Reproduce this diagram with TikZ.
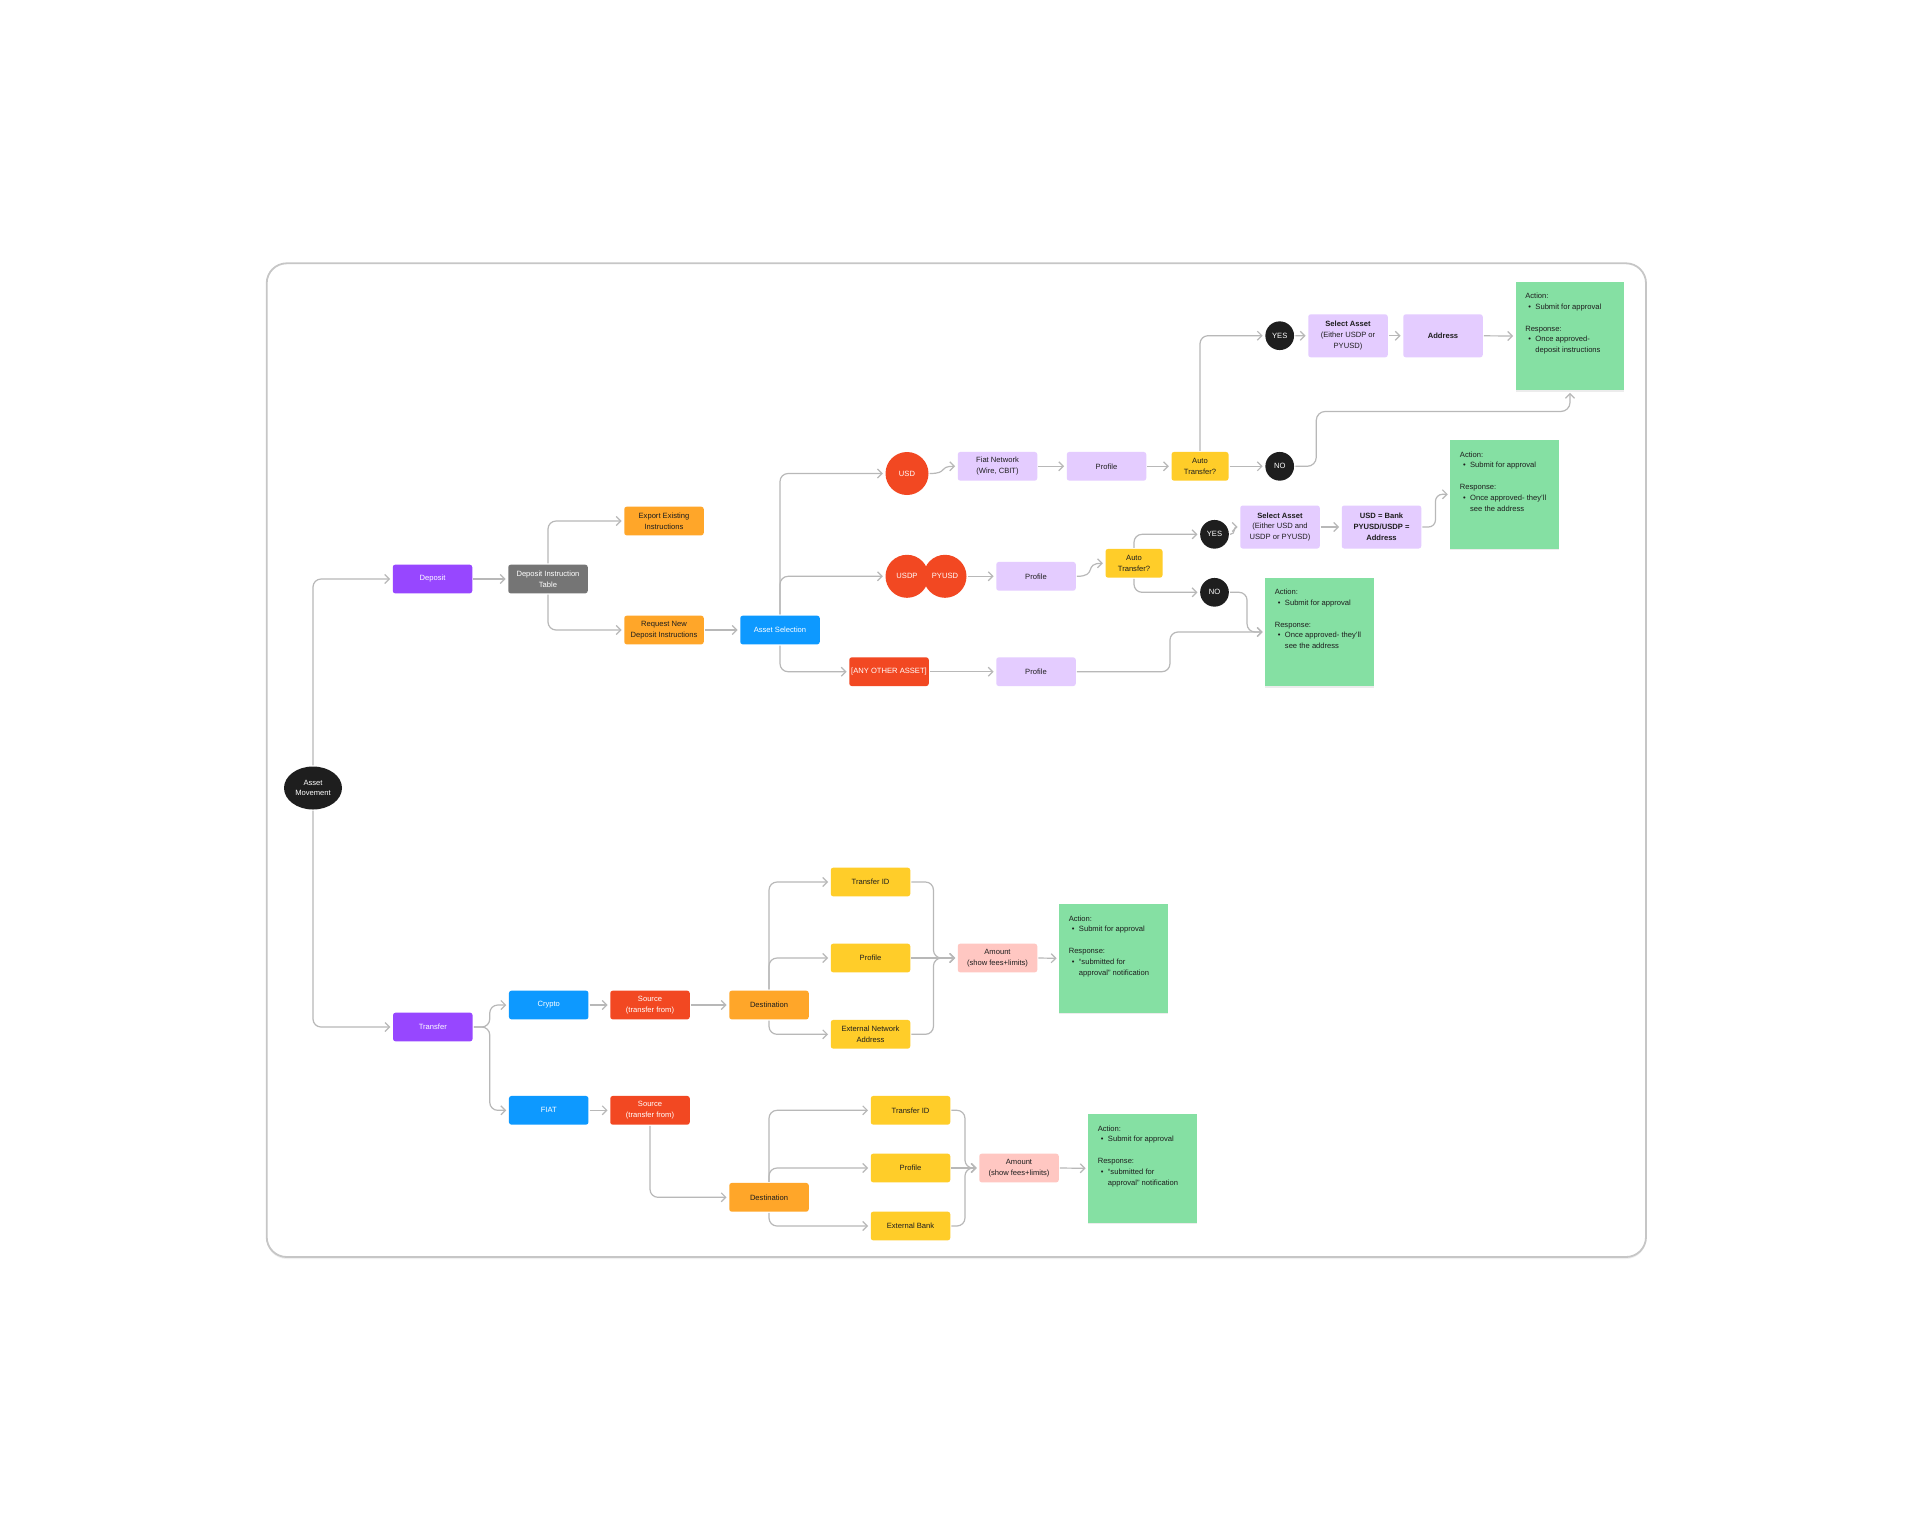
\documentclass[tikz,border=0pt]{standalone}
\usepackage{fontspec}
\setmainfont{Liberation Sans}
\usetikzlibrary{arrows.meta,shapes.geometric,shadows}

\definecolor{violet}{HTML}{9747FF}
\definecolor{slate}{HTML}{757575}
\definecolor{amber}{HTML}{FFA629}
\definecolor{azure}{HTML}{0D99FF}
\definecolor{vermil}{HTML}{F24822}
\definecolor{lilac}{HTML}{E4CCFF}
\definecolor{gold}{HTML}{FFCD29}
\definecolor{blush}{HTML}{FFC7C2}
\definecolor{mint}{HTML}{85E0A3}
\definecolor{ink}{HTML}{1E1E1E}
\definecolor{wire}{HTML}{B8B8B8}
\definecolor{rim}{HTML}{C6C6C6}

\newcommand\boxfont{\fontsize{7.6}{10.8}\selectfont}
\newcommand\bul[1]{\hspace*{3.2pt}\makebox[7pt][l]{\textbullet}#1}
\newcommand\ind[1]{\hspace*{10.2pt}#1}
\newcommand\notetext[1]{\parbox[c][85.5pt][t]{89.5pt}{\raggedright #1}}

\tikzset{
    box/.style={rectangle, rounded corners=2.5pt, minimum width=79.5pt,
        minimum height=28.7pt, inner sep=0pt, align=center, font=\boxfont,
        text=ink},
    tallbox/.style={box, minimum height=43pt},
    dot/.style={circle, fill=ink, text=white, inner sep=0pt,
        minimum size=28.7pt, font=\boxfont},
    coin/.style={circle, fill=vermil, text=white, inner sep=0pt,
        minimum size=43pt, font=\boxfont},
    note/.style={rectangle, fill=mint, inner xsep=9.5pt, inner ysep=11.5pt,
        font=\boxfont, text=ink,
        drop shadow={opacity=0.15, shadow xshift=0pt, shadow yshift=-1.5pt}},
    conn/.style={draw=wire, line width=1.2pt, rounded corners=8pt,
        -{Straight Barb[length=4.5pt,width=9pt]}, shorten >=2.5pt,
        shorten <=1pt},
}

\begin{document}
\begin{tikzpicture}[x=1pt, y=-1pt]
    \useasboundingbox (0,0) rectangle (1913,1529);
    % outer frame
    \draw[rim, line width=1.8pt, rounded corners=20pt, fill=white,
        drop shadow={opacity=0.12, shadow xshift=0pt, shadow yshift=-2pt}]
        (266.7,263.3) rectangle (1646,1257);

    % start
    \node[ellipse, fill=ink, text=white, minimum width=58pt, minimum height=43pt,
        inner sep=0pt, align=center, font=\boxfont] (am) at (313,788) {Asset\\Movement};

    % deposit branch
    \node[box, fill=violet, text=white] (dep) at (432.5,579) {Deposit};
    \node[box, fill=slate, text=white] (dit) at (548,579) {Deposit Instruction\\Table};
    \node[box, fill=amber] (exp) at (664,521) {Export Existing\\Instructions};
    \node[box, fill=amber] (req) at (664,630) {Request New\\Deposit Instructions};
    \node[box, fill=azure, text=white] (asel) at (780,630) {Asset Selection};

    % USD row
    \node[coin] (usd) at (907,473.5) {USD};
    \node[box, fill=lilac] (fiat) at (997.5,466.3) {Fiat Network\\(Wire, CBIT)};
    \node[box, fill=lilac] (prA) at (1106.5,466.3) {Profile};
    \node[box, fill=gold, minimum width=57pt] (atA) at (1200,466.3) {Auto\\Transfer?};
    \node[dot] (yesA) at (1279.7,335.7) {YES};
    \node[dot] (noA) at (1279.7,466.3) {NO};
    \node[tallbox, fill=lilac] (saA) at (1348,335.8) {\textbf{Select Asset}\\(Either USDP or\\PYUSD)};
    \node[tallbox, fill=lilac] (adr) at (1443,335.8) {\textbf{Address}};
    \node[note] (ntA) at (1570,336) {\notetext{Action:\\
        \bul{Submit for approval}\\[10.8pt]
        Response:\\
        \bul{Once approved-}\\
        \ind{deposit instructions}}};

    % USDP / PYUSD row
    \node[coin] (usdp) at (907,576.3) {USDP};
    \node[coin] (pyusd) at (945,576.3) {PYUSD};
    \node[box, fill=lilac] (prB) at (1036,576.3) {Profile};
    \node[box, fill=gold, minimum width=57pt] (atB) at (1134,563.3) {Auto\\Transfer?};
    \node[dot] (yesB) at (1214.5,534.3) {YES};
    \node[dot] (noB) at (1214.5,592.3) {NO};
    \node[tallbox, fill=lilac] (saB) at (1280,527) {\textbf{Select Asset}\\(Either USD and\\USDP or PYUSD)};
    \node[tallbox, fill=lilac, font=\boxfont\bfseries] (bank) at (1381.5,527) {USD = Bank\\PYUSD/USDP =\\Address};
    \node[note] (ntB) at (1504.7,494.3) {\notetext{Action:\\
        \bul{Submit for approval}\\[10.8pt]
        Response:\\
        \bul{Once approved- they'll}\\
        \ind{see the address}}};

    % other assets row
    \node[box, fill=vermil, text=white] (other) at (889,671.7) {[ANY OTHER ASSET]};
    \node[box, fill=lilac] (prC) at (1036,671.7) {Profile};
    \node[note] (ntC) at (1319.5,632) {\notetext{Action:\\
        \bul{Submit for approval}\\[10.8pt]
        Response:\\
        \bul{Once approved- they'll}\\
        \ind{see the address}}};

    % transfer branch
    \node[box, fill=violet, text=white] (trf) at (432.8,1027) {Transfer};
    \node[box, fill=azure, text=white] (cry) at (548.7,1005) {Crypto};
    \node[box, fill=vermil, text=white] (srcA) at (650,1005) {Source\\(transfer from)};
    \node[box, fill=amber] (dstA) at (769,1005) {Destination};
    \node[box, fill=gold] (tidA) at (870.5,882) {Transfer ID};
    \node[box, fill=gold] (pfA) at (870.5,958) {Profile};
    \node[box, fill=gold] (ena) at (870.5,1034.3) {External Network\\Address};
    \node[box, fill=blush] (amtA) at (997.5,958) {Amount\\(show fees+limits)};
    \node[note] (ntD) at (1113.5,958.3) {\notetext{Action:\\
        \bul{Submit for approval}\\[10.8pt]
        Response:\\
        \bul{“submitted for}\\
        \ind{approval” notification}}};

    \node[box, fill=azure, text=white] (fiatB) at (548.7,1110.3) {FIAT};
    \node[box, fill=vermil, text=white] (srcB) at (650,1110.3) {Source\\(transfer from)};
    \node[box, fill=amber] (dstB) at (769,1197.3) {Destination};
    \node[box, fill=gold] (tidB) at (910.5,1110.3) {Transfer ID};
    \node[box, fill=gold] (pfB) at (910.5,1168) {Profile};
    \node[box, fill=gold] (ebk) at (910.5,1226) {External Bank};
    \node[box, fill=blush] (amtB) at (1019,1168) {Amount\\(show fees+limits)};
    \node[note] (ntE) at (1142.5,1168.3) {\notetext{Action:\\
        \bul{Submit for approval}\\[10.8pt]
        Response:\\
        \bul{“submitted for}\\
        \ind{approval” notification}}};

    % connectors, deposit side
    \draw[conn] (am.north) |- (dep.west);
    \draw[conn] (am.south) |- (trf.west);
    \draw[conn] (dep.east) -- (dit.west);
    \draw[conn] (dit.north) |- (exp.west);
    \draw[conn] (dit.south) |- (req.west);
    \draw[conn] (req.east) -- (asel.west);
    \draw[conn] (asel.north) |- (usd.west);
    \draw[conn] (asel.north) |- (usdp.west);
    \draw[conn] (asel.south) |- (other.west);

    \draw[conn] (usd.east) .. controls +(20,0) and +(-20,0) .. (fiat.west);
    \draw[conn] (fiat.east) -- (prA.west);
    \draw[conn] (prA.east) -- (atA.west);
    \draw[conn] (atA.east) -- (noA.west);
    \draw[conn] (atA.north) |- (yesA.west);
    \draw[conn] (yesA.east) -- (saA.west);
    \draw[conn] (saA.east) -- (adr.west);
    \draw[conn] (adr.east) -- (ntA.west);
    \draw[conn, rounded corners=9pt] (noA.east) -- ++(22,0)
        |- ([yshift=-21pt]ntA.south) -- (ntA.south);

    \draw[conn] (pyusd.east) -- (prB.west);
    \draw[conn] (prB.east) .. controls +(22,0) and +(-22,0) .. (atB.west);
    \draw[conn] (atB.north) |- (yesB.west);
    \draw[conn] (atB.south) |- (noB.west);
    \draw[conn] (yesB.east) .. controls +(7,0) and +(-7,0) .. (saB.west);
    \draw[conn] (saB.east) -- (bank.west);
    \draw[conn, rounded corners=7pt] (bank.east) -- ++(14,0) |- (ntB.west);
    \draw[conn] (noB.east) -- ++(18,0) |- (ntC.west);

    \draw[conn] (other.east) -- (prC.west);
    \draw[conn] (prC.east) -- ++(94,0) |- (ntC.west);

    % connectors, transfer side
    \draw[conn] (trf.east) -- ++(17,0) |- (cry.west);
    \draw[conn] (trf.east) -- ++(17,0) |- (fiatB.west);
    \draw[conn] (cry.east) -- (srcA.west);
    \draw[conn] (srcA.east) -- (dstA.west);
    \draw[conn] (dstA.north) |- (tidA.west);
    \draw[conn] (dstA.north) |- (pfA.west);
    \draw[conn] (dstA.south) |- (ena.west);
    \draw[conn] (tidA.east) -- ++(23,0) |- (amtA.west);
    \draw[conn] (pfA.east) -- (amtA.west);
    \draw[conn] (ena.east) -- ++(23,0) |- (amtA.west);
    \draw[conn] (amtA.east) -- (ntD.west);

    \draw[conn] (fiatB.east) -- (srcB.west);
    \draw[conn] (srcB.south) |- (dstB.west);
    \draw[conn] (dstB.north) |- (tidB.west);
    \draw[conn] (dstB.north) |- (pfB.west);
    \draw[conn] (dstB.south) |- (ebk.west);
    \draw[conn] (tidB.east) -- ++(14.5,0) |- (amtB.west);
    \draw[conn] (pfB.east) -- (amtB.west);
    \draw[conn] (ebk.east) -- ++(14.5,0) |- (amtB.west);
    \draw[conn] (amtB.east) -- (ntE.west);
\end{tikzpicture}
\end{document}
